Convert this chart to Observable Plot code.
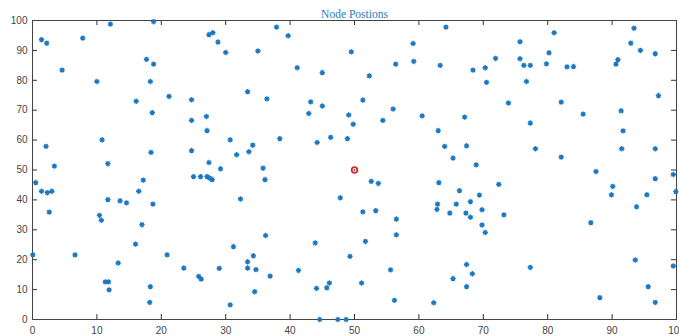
<!DOCTYPE html>
<html><head><meta charset="utf-8">
<script src="https://cdn.jsdelivr.net/npm/d3@7"></script>
<script src="https://cdn.jsdelivr.net/npm/@observablehq/plot@0.6"></script>
<style>body{margin:0;background:#fff;overflow:hidden;}</style>
</head><body><div id="chart"></div>
<script>
const title = "Node Postions";
const tickValues = [0, 10, 20, 30, 40, 50, 60, 70, 80, 90, 100];

const nodeX = [
  1.4, 2.2, 7.8, 12.1, 18.8, 4.6, 10.0, 17.7, 18.8, 18.3, 16.1, 21.2, 24.7, 18.6, 24.7, 10.8, 2.1, 18.4, 24.7, 3.4, 11.7,
  37.9, 27.4, 28.0, 39.7, 28.8, 30.0, 35.0, 49.5, 41.1, 45.0, 52.3, 33.4, 36.4, 43.2, 45.0, 51.3, 42.9, 49.1, 49.8, 27.0, 27.1, 30.7, 34.2, 38.4, 44.2, 46.3, 48.9, 31.7, 33.6, 27.4, 29.2, 35.8,
  64.2, 59.1, 75.7, 56.4, 59.2, 63.3, 68.4, 70.3, 71.9, 75.7, 76.3, 77.3, 70.5, 76.7, 73.9, 56.0, 54.4, 60.5, 67.1, 63.0, 77.3, 64.0, 67.4, 65.3, 68.9, 78.1,
  93.4, 81.0, 92.9, 94.4, 96.7, 80.2, 79.8, 83.0, 84.0, 90.9, 90.6, 97.2, 82.1, 85.5, 91.4, 91.7, 82.1, 91.5, 96.7, 87.5,
  0.5, 1.4, 2.3, 3.0, 2.6, 0.05, 6.6, 17.2, 25.0, 26.1, 16.5, 11.7, 13.6, 14.6, 18.7, 10.4, 10.7, 17.0, 16.0, 20.9, 13.3, 23.5, 25.8, 26.2, 11.3, 11.8, 11.9, 18.3, 18.2,
  27.1, 27.5, 27.9, 36.1, 32.3, 47.8, 51.3, 52.6, 36.2, 31.2, 43.9, 51.7, 34.3, 33.4, 33.4, 34.7, 29.0, 36.9, 41.3, 49.3, 34.5, 44.1, 45.7, 46.1, 51.1, 30.7, 44.6, 47.4, 48.7,
  53.7, 63.1, 72.4, 66.3, 69.4, 62.9, 62.8, 65.8, 68.0, 69.8, 64.8, 67.3, 68.0, 73.2, 69.8, 70.3, 53.3, 56.5, 56.5, 67.4, 68.3, 65.3, 67.4, 77.3, 55.6, 56.2, 62.3,
  96.7, 99.5, 90.1, 89.9, 95.4, 99.9, 93.8, 86.7, 93.6, 99.5, 95.6, 88.1, 96.7
];
const nodeY = [
  93.6, 92.4, 94.1, 98.8, 99.6, 83.4, 79.6, 87.0, 85.4, 79.6, 73.0, 74.6, 73.5, 69.2, 66.6, 60.1, 57.9, 55.9, 56.5, 51.3, 52.1,
  97.8, 95.3, 95.9, 94.9, 92.8, 89.3, 89.8, 89.5, 84.2, 82.6, 81.5, 76.2, 73.8, 72.8, 71.4, 73.4, 68.9, 68.4, 65.3, 67.9, 63.2, 60.1, 58.3, 60.5, 59.2, 60.9, 60.5, 55.1, 56.1, 52.5, 50.4, 50.6,
  97.8, 92.3, 92.9, 85.4, 86.3, 85.0, 83.4, 84.2, 87.3, 87.2, 85.0, 85.0, 79.3, 79.6, 72.4, 70.4, 66.6, 68.1, 67.7, 63.2, 65.7, 57.9, 58.1, 54.0, 51.7, 57.1,
  97.4, 95.9, 92.4, 90.0, 88.9, 89.2, 85.5, 84.5, 84.6, 86.9, 85.4, 74.9, 72.7, 68.7, 69.8, 63.1, 54.3, 57.1, 57.1, 49.5,
  45.8, 42.9, 42.4, 42.9, 35.9, 21.6, 21.6, 46.6, 47.8, 47.8, 42.9, 40.1, 39.7, 39.0, 38.6, 34.8, 33.2, 31.7, 25.2, 21.6, 18.9, 17.2, 14.4, 13.5, 12.6, 12.6, 9.9, 11.0, 5.7,
  47.8, 47.3, 46.8, 46.8, 40.3, 40.7, 36.0, 46.2, 28.1, 24.4, 25.6, 26.1, 21.3, 19.3, 17.2, 16.7, 17.1, 14.5, 16.4, 21.1, 9.3, 10.4, 10.6, 12.2, 12.2, 4.9, 0.0, 0.0, 0.0,
  45.5, 45.8, 45.2, 43.1, 41.6, 38.6, 36.8, 38.6, 39.4, 36.7, 35.6, 35.6, 34.2, 35.0, 31.6, 29.1, 36.4, 33.6, 28.3, 18.4, 15.3, 13.7, 11.0, 17.4, 16.6, 6.4, 5.6,
  47.1, 48.5, 44.5, 41.7, 41.7, 42.8, 37.7, 32.4, 19.9, 17.9, 11.0, 7.3, 5.7
];
const sinkX = [50];
const sinkY = [50];

const W = 679, H = 336, mL = 32, mR = 3, mT = 20, mB = 17, tick = 5;
const fw = W - mL - mR, fh = H - mT - mB;

// MATLAB-like "*" marker: a plus combined with a cross
const star = {
  draw(context, size) {
    const r = Math.sqrt(size / Math.PI);
    const d = r * 0.7;
    context.moveTo(-r, 0); context.lineTo(r, 0);
    context.moveTo(0, -r); context.lineTo(0, r);
    context.moveTo(-d, -d); context.lineTo(d, d);
    context.moveTo(-d, d); context.lineTo(d, -d);
  }
};

const chart = Plot.plot({
  width: W, height: H,
  marginLeft: mL, marginRight: mR, marginTop: mT, marginBottom: mB,
  style: {background: "#fff", fontFamily: "'Liberation Sans', Arial, sans-serif", fontSize: "10px", color: "#444", overflow: "visible"},
  x: {domain: [0, 100]},
  y: {domain: [0, 100]},
  marks: [
    Plot.ruleX(tickValues, {x: d => d, insetTop: fh - tick, stroke: "#333"}),
    Plot.ruleX(tickValues, {x: d => d, insetBottom: fh - tick, stroke: "#333"}),
    Plot.ruleY(tickValues, {y: d => d, insetRight: fw - tick, stroke: "#333"}),
    Plot.ruleY(tickValues, {y: d => d, insetLeft: fw - tick, stroke: "#333"}),
    Plot.frame({stroke: "#444", strokeWidth: 1}),
    Plot.axisX({ticks: tickValues, tickSize: 0, tickPadding: 7, fill: "#444"}),
    Plot.axisY({ticks: tickValues, tickSize: 0, tickPadding: 5, fill: "#444"}),
    Plot.dot(nodeX, {x: nodeX, y: nodeY, symbol: star, r: 2.7, stroke: "#1a78c2", strokeWidth: 1.3}),
    Plot.dot(sinkX, {x: sinkX, y: sinkY, r: 2.8, stroke: "#e3262b", strokeWidth: 1.8, fill: "none"}),
    Plot.dot(sinkX, {x: sinkX, y: sinkY, r: 0.9, fill: "#3a5fb0", stroke: "none"}),
    Plot.text([title], {frameAnchor: "top", dy: -3, lineAnchor: "bottom", text: d => d, fill: "#2a7bc0", fontFamily: "'Liberation Serif', 'DejaVu Serif', serif", fontSize: 11.5})
  ]
});
document.getElementById("chart").append(chart);
</script>
</body></html>
